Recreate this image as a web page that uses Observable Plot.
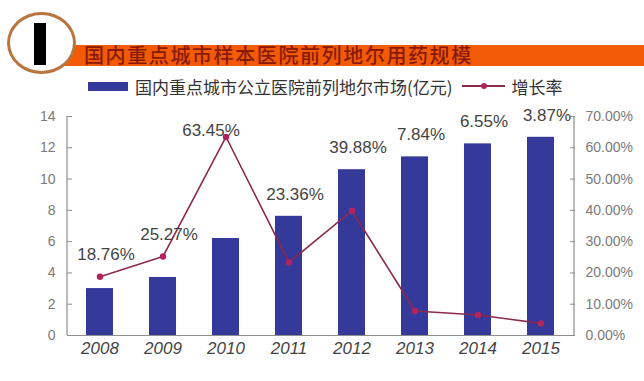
<!DOCTYPE html>
<html>
<head>
<meta charset="utf-8">
<script src="https://cdn.jsdelivr.net/npm/d3@7"></script>
<script src="https://cdn.jsdelivr.net/npm/@observablehq/plot@0.6"></script>
<style>
  html, body { margin: 0; padding: 0; background: #fff; }
  body { width: 644px; height: 381px; overflow: hidden; position: relative;
         font-family: "Liberation Sans", "Noto Sans CJK SC", sans-serif; }
  #header { position: relative; width: 644px; height: 100px; }
  #banner { position: absolute; left: 45px; top: 45px; width: 599px; height: 21px; background: #f25a06; }
  #badge { position: absolute; left: 7px; top: 12px; width: 63px; height: 56px; border: 3px solid #b8753f;
           border-radius: 50%; background: #fff; }
  #badge .bar { position: absolute; left: 24px; top: 8px; width: 12px; height: 42px; background: #000; }
  #title { position: absolute; left: 84px; top: 43px; font-family: "Noto Sans CJK SC", sans-serif;
           font-size: 20px; line-height: 24px; font-weight: 500; color: #8a1a08; letter-spacing: 1.6px; }
  #legend { position: absolute; left: 88px; top: 74px; height: 24px; display: flex; align-items: center;
            font-family: "Noto Sans CJK SC", sans-serif; font-size: 17px; color: #333; }
  #legend .sw { width: 40px; height: 9px; background: #35399a; margin-right: 7px; }
  #legend .ln { position: relative; width: 43px; height: 2px; background: #8b2a4a; margin: 0 7px 0 9px; }
  #legend .ln::after { content: ""; position: absolute; left: 19px; top: -2px; width: 6px; height: 6px;
            border-radius: 50%; background: #b3245f; }
  #chart { position: absolute; left: 0; top: 100px; }
</style>
</head>
<body>
<div id="header">
  <div id="banner"></div>
  <div id="badge"><div class="bar"></div></div>
  <div id="title">国内重点城市样本医院前列地尔用药规模</div>
  <div id="legend"><span class="sw"></span><span id="lg1"></span><span class="ln"></span><span id="lg2"></span></div>
</div>
<div id="chart"></div>
<script>
// Data
const years = ["2008", "2009", "2010", "2011", "2012", "2013", "2014", "2015"];
const market = [3.0, 3.71, 6.2, 7.62, 10.6, 11.42, 12.25, 12.67];   // 亿元
const growth = [18.76, 25.27, 63.45, 23.36, 39.88, 7.84, 6.55, 3.87]; // %
const leftTicks = [0, 2, 4, 6, 8, 10, 12, 14];
const rightTicks = [0, 10, 20, 30, 40, 50, 60, 70];
const seriesNames = ["国内重点城市公立医院前列地尔市场(亿元)", "增长率"];

document.getElementById("lg1").textContent = seriesNames[0];
document.getElementById("lg2").textContent = seriesNames[1];

const ratio = 14 / 70; // right axis (%) → left axis units
const table = years.map((y, i) => ({year: y, market: market[i], growth: growth[i], gy: growth[i] * ratio}));

// label anchor: above whichever is higher (bar top or line point); closer when sitting on the peak
const labelY = d => Math.max(d.market, d.gy);
const onPeak = d => d.gy > d.market + 4;

const axisColor = "#8c8c8c";
const chart = Plot.plot({
  width: 644,
  height: 281,
  marginLeft: 67,
  marginRight: 70,
  marginTop: 16,
  marginBottom: 46,
  style: {fontFamily: "'Liberation Sans', Arial, sans-serif", background: "transparent"},
  x: {domain: years, paddingInner: 0.57, paddingOuter: 0.27},
  y: {domain: [0, 14]},
  marks: [
    Plot.barY(table, {x: "year", y: "market", fill: "#35399a"}),
    Plot.ruleY([0], {stroke: axisColor, strokeWidth: 1.2}),
    Plot.axisY({anchor: "left", ticks: leftTicks, tickSize: -5, tickPadding: 17,
                stroke: axisColor, fill: "#7a7a7a", fontSize: 14, label: null}),
    Plot.axisY({anchor: "right", ticks: rightTicks.map(d => d * ratio), tickSize: -5, tickPadding: 16,
                stroke: axisColor, fill: "#7a7a7a", fontSize: 14, label: null,
                tickFormat: d => (d / ratio).toFixed(2) + "%"}),
    Plot.axisX({anchor: "bottom", tickSize: 0, tickPadding: 6, fontSize: 17, fill: "#444",
                fontStyle: "italic", label: null}),
    Plot.line(table, {x: "year", y: "gy", stroke: "#8b2a4a", strokeWidth: 1.6}),
    Plot.dot(table, {x: "year", y: "gy", r: 3.2, fill: "#b3245f", stroke: "none"}),
    Plot.text(table.filter(d => !onPeak(d)), {x: "year", y: labelY, text: d => d.growth.toFixed(2) + "%",
                      dy: -22, dx: 6, fontSize: 17, fill: "#444"}),
    Plot.text(table.filter(onPeak), {x: "year", y: labelY, text: d => d.growth.toFixed(2) + "%",
                      dy: -6, dx: -15, fontSize: 17, fill: "#444"})
  ]
});

// vertical axis lines on both sides of the plot area
const xr = chart.scale("x").range, yr = chart.scale("y").range;
const svg = d3.select(chart);
[xr[0], xr[1]].forEach(xp => {
  svg.append("line").attr("x1", xp).attr("x2", xp).attr("y1", yr[0]).attr("y2", yr[1])
     .attr("stroke", axisColor).attr("stroke-width", 1.2);
});
document.getElementById("chart").appendChild(chart);
</script>
</body>
</html>
